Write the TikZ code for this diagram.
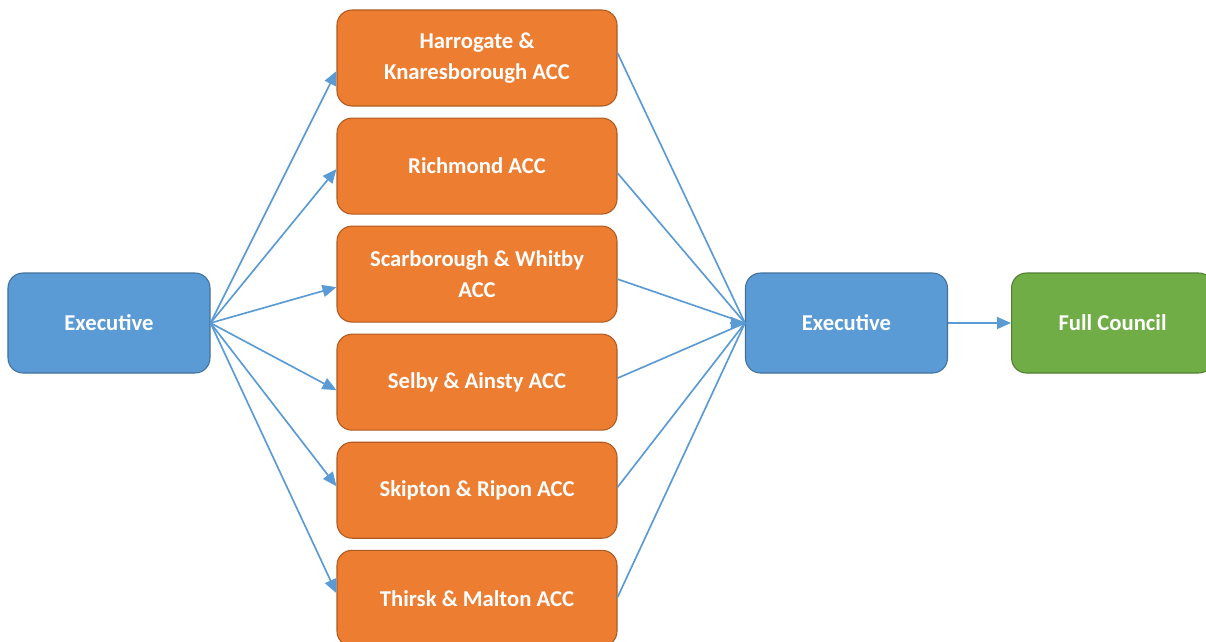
\documentclass[tikz,border=0pt]{standalone}
\usepackage{fontspec}
\setmainfont{Carlito}
\usepackage{xcolor}
\usepackage{tikz}
\usetikzlibrary{arrows.meta, positioning}
\definecolor{execblue}{HTML}{5B9BD5}
\definecolor{execline}{HTML}{41719C}
\definecolor{accorange}{HTML}{ED7D31}
\definecolor{accline}{HTML}{AE5A21}
\definecolor{councilgreen}{HTML}{70AD47}
\definecolor{councilline}{HTML}{507E32}

\begin{document}
\begin{tikzpicture}[
        box/.style={rectangle, draw, rounded corners=0.3cm, line width=0.6pt, align=center,
            text=white, font=\fontsize{12.9}{17.5}\selectfont\bfseries},
        exec/.style={box, fill=execblue, draw=execline, minimum height=2cm, minimum width=4.04cm},
        acc/.style={box, fill=accorange, draw=accline, minimum height=1.92cm, minimum width=5.6cm},
        council/.style={box, fill=councilgreen, draw=councilline, minimum height=2cm, minimum width=4.04cm},
        arrow/.style={-{Triangle[length=0.28cm, width=0.24cm]}, line width=0.95pt, draw=execblue, fill=execblue},
        link/.style={line width=0.95pt, draw=execblue},
        node distance=0.22cm and 2.56cm
    ]
        \useasboundingbox (0,0) rectangle (24.12,-12.84);

        % area committees
        \node[acc] (harrogate) at (9.54,-1.16) {Harrogate \&\\Knaresborough ACC};
        \node[acc, below=of harrogate] (richmond) {Richmond ACC};
        \node[acc, below=of richmond] (scarborough) {Scarborough \& Whitby\\ACC};
        \node[acc, below=of scarborough] (selby) {Selby \& Ainsty ACC};
        \node[acc, below=of selby] (skipton) {Skipton \& Ripon ACC};
        \node[acc, below=of skipton] (thirsk) {Thirsk \& Malton ACC};

        \node[exec] (execA) at (2.18,-6.46) {Executive};
        \node[exec] (execB) at (16.93,-6.46) {Executive};
        \node[council, right=1.26cm of execB] (council) {Full Council};

        % out to the committees
        \draw[arrow] (execA.east) -- ([yshift=-0.26cm]harrogate.west);
        \draw[arrow] (execA.east) -- ([yshift=-0.06cm]richmond.west);
        \draw[arrow] (execA.east) -- ([yshift=-0.26cm]scarborough.west);
        \draw[arrow] (execA.east) -- ([yshift=-0.16cm]selby.west);
        \draw[arrow] (execA.east) -- ([yshift=0.08cm]skipton.west);
        \draw[arrow] (execA.east) -- ([yshift=0.1cm]thirsk.west);

        % back in to the executive
        \draw[link] ([yshift=0.1cm]harrogate.east) -- (execB.west);
        \draw[link] ([yshift=-0.14cm]richmond.east) -- (execB.west);
        \draw[link] ([yshift=-0.1cm]scarborough.east) -- (execB.west);
        \draw[link] ([yshift=0.08cm]selby.east) -- (execB.west);
        \draw[link] ([yshift=0.06cm]skipton.east) -- (execB.west);
        \draw[link] ([yshift=0.02cm]thirsk.east) -- (execB.west);
        \draw[arrow] ([xshift=-0.3cm]execB.west) -- (execB.west);

        \draw[arrow] (execB.east) -- (council.west);
    \end{tikzpicture}
\end{document}
